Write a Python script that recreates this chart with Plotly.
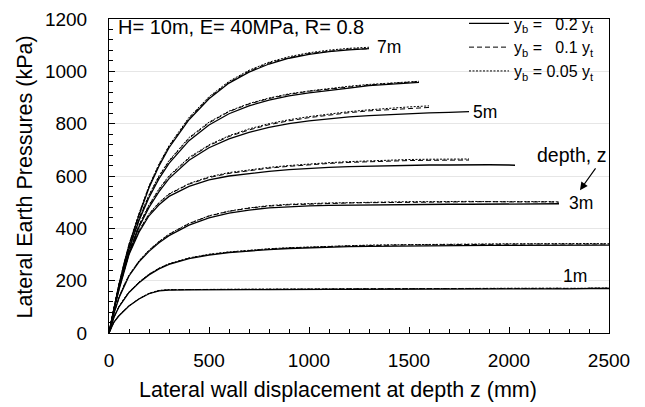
import plotly.graph_objects as go

# ---------------- data ----------------
# lateral wall displacement (mm)
disp_long = [0, 10, 25, 50, 75, 100, 150, 200, 250, 300, 400, 500, 600, 700, 800, 900, 1000,
             1100, 1200, 1300, 1400, 1500, 1600, 1700, 1800, 1900, 2000, 2100, 2200, 2300, 2400, 2500]
disp_3m = [0, 10, 25, 50, 75, 100, 150, 200, 250, 300, 400, 500, 600, 700, 800, 900, 1000,
           1100, 1200, 1300, 1400, 1500, 1600, 1700, 1800, 1900, 2000, 2100, 2200, 2250]
disp_4m = [0, 10, 25, 50, 75, 100, 150, 200, 250, 300, 400, 500, 600, 700, 800, 900, 1000,
           1100, 1200, 1300, 1400, 1500, 1600, 1700, 1800, 1900, 2000, 2030]
disp_5m = [0, 10, 25, 50, 75, 100, 150, 200, 250, 300, 400, 500, 600, 700, 800, 900, 1000,
           1100, 1200, 1300, 1400, 1500, 1600, 1700, 1800]
disp_6m = [0, 10, 25, 50, 75, 100, 150, 200, 250, 300, 400, 500, 600, 700, 800, 900, 1000,
           1100, 1200, 1300, 1400, 1500, 1550]
disp_7m = [0, 10, 25, 50, 75, 100, 150, 200, 250, 300, 400, 500, 600, 700, 800, 900, 1000,
           1100, 1200, 1300]

# lateral earth pressure (kPa): yb = 0.2 yt (solid), 0.1 yt (dashed), 0.05 yt (dotted)
p1_s = [0, 20, 42, 66, 86, 103, 130, 150, 161, 164, 165, 166, 166, 166, 166, 167, 167, 167, 167, 167,
        168, 168, 168, 168, 168, 169, 169, 169, 169, 169, 170, 170]
p1_d = [0, 20, 42, 67, 87, 104, 131, 151, 162, 165, 166, 166, 167, 167, 168, 168, 168, 168, 169, 169,
        169, 169, 170, 170, 170, 170, 170, 171, 171, 171, 171, 171]
p1_o = [0, 20, 43, 67, 87, 104, 131, 152, 163, 166, 166, 167, 167, 168, 168, 168, 169, 169, 169, 169,
        170, 170, 170, 170, 171, 171, 171, 171, 171, 172, 172, 172]

p2_s = [0, 28, 60, 100, 130, 155, 192, 222, 245, 262, 284, 298, 307, 314, 319, 323, 326, 328, 330, 331,
        332, 333, 333, 334, 334, 335, 335, 335, 336, 336, 336, 336]
p2_d = [0, 28, 61, 101, 131, 156, 194, 224, 247, 264, 286, 300, 309, 316, 321, 325, 328, 331, 333, 334,
        336, 337, 337, 338, 338, 339, 339, 340, 340, 340, 341, 340]
p2_o = [0, 29, 61, 102, 132, 157, 195, 225, 248, 265, 287, 301, 310, 317, 322, 326, 329, 332, 334, 336,
        337, 338, 339, 339, 340, 340, 341, 341, 342, 341, 342, 341]

p3_s = [0, 33, 75, 135, 180, 218, 272, 312, 345, 372, 412, 440, 458, 470, 478, 483, 486, 488, 489, 490,
        490, 491, 491, 492, 492, 493, 493, 494, 494, 494]
p3_d = [0, 33, 76, 136, 182, 220, 275, 316, 349, 377, 418, 447, 465, 477, 485, 490, 493, 495, 497, 498,
        499, 500, 500, 501, 501, 502, 501, 502, 501, 500]
p3_o = [0, 34, 76, 137, 183, 221, 276, 317, 350, 378, 419, 448, 466, 478, 487, 492, 495, 497, 498, 500,
        501, 502, 502, 503, 503, 502, 503, 502, 502, 501]

p4_s = [0, 38, 88, 165, 235, 300, 385, 448, 490, 522, 560, 585, 600, 610, 618, 624, 629, 633, 636, 638,
        640, 641, 642, 642, 643, 643, 642, 641]
p4_d = [0, 38, 89, 167, 238, 303, 390, 454, 497, 530, 569, 594, 610, 621, 630, 637, 643, 648, 652, 655,
        657, 659, 660, 661, 661]
p4_o = [0, 39, 90, 168, 239, 305, 392, 456, 499, 532, 571, 597, 613, 624, 633, 640, 646, 651, 655, 658,
        661, 663, 664, 664, 665]

p5_s = [0, 40, 92, 175, 245, 305, 405, 480, 540, 590, 660, 708, 742, 767, 786, 800, 811, 819, 826, 831,
        835, 838, 841, 843, 846]
p5_d = [0, 40, 93, 177, 248, 309, 411, 487, 548, 598, 668, 716, 751, 776, 796, 811, 823, 833, 842, 849,
        854, 858, 862]
p5_o = [0, 41, 94, 178, 250, 311, 413, 490, 551, 601, 671, 719, 754, 780, 800, 815, 827, 837, 846, 853,
        859, 864, 868]

p6_s = [0, 40, 93, 180, 255, 320, 430, 518, 590, 648, 735, 795, 838, 868, 890, 906, 918, 928, 936, 945,
        951, 956, 958]
p6_d = [0, 40, 94, 182, 258, 324, 436, 525, 598, 656, 744, 803, 846, 875, 896, 912, 924, 933, 940, 948,
        953, 958, 961]
p6_o = [0, 41, 95, 183, 259, 326, 438, 528, 601, 659, 747, 806, 848, 877, 898, 914, 925, 935, 943, 950,
        955, 960, 962]

p7_s = [0, 40, 95, 185, 265, 335, 450, 555, 638, 708, 815, 895, 955, 997, 1028, 1050, 1065, 1075, 1082, 1087]
p7_d = [0, 41, 96, 187, 268, 338, 455, 560, 643, 713, 820, 900, 958, 1001, 1032, 1052, 1068, 1077, 1085, 1086]
p7_o = [0, 41, 97, 188, 269, 340, 457, 562, 646, 716, 824, 903, 962, 1004, 1035, 1056, 1071, 1081, 1088, 1092]

depths = ["1m", "2m", "3m", "4m", "5m", "6m", "7m"]
disp = [disp_long, disp_long, disp_3m, disp_4m, disp_5m, disp_6m, disp_7m]
solid = [p1_s, p2_s, p3_s, p4_s, p5_s, p6_s, p7_s]
dashed = [p1_d, p2_d, p3_d, p4_d, p5_d, p6_d, p7_d]
dotted = [p1_o, p2_o, p3_o, p4_o, p5_o, p6_o, p7_o]

series_names = ["y<sub>b</sub> =\u00a0\u00a0\u00a00.2 y<sub>t</sub>",
                "y<sub>b</sub> =\u00a0\u00a0\u00a00.1 y<sub>t</sub>",
                "y<sub>b</sub> = 0.05 y<sub>t</sub>"]

# ---------------- figure ----------------
FONT = "Liberation Sans, Arial, sans-serif"
fig = go.Figure()

styles = [dict(width=1.3, dash="solid"),
          dict(width=1.0, dash="5px,3px"),
          dict(width=1.0, dash="2px,1.5px")]

for k, (sets, st) in enumerate(zip([solid, dashed, dotted], styles)):
    for i, d in enumerate(depths):
        yv = sets[i]
        xv = disp[i][:len(yv)]
        fig.add_trace(go.Scatter(
            x=xv, y=yv, mode="lines",
            line=dict(color="black", width=st["width"], dash=st["dash"]),
            name=series_names[k], legendgroup=series_names[k],
            showlegend=(i == 0), hoverinfo="skip"))

annotations = [
    dict(text="H= 10m, E= 40MPa, R= 0.8", xref="paper", yref="paper", x=0.014, y=0.975,
         xanchor="left", yanchor="middle", showarrow=False, font=dict(size=20)),
    dict(text="7m", x=1330, y=1092, xanchor="left", yanchor="middle", showarrow=False,
         font=dict(size=17.5)),
    dict(text="5m", x=1808, y=846, xanchor="left", yanchor="middle", showarrow=False,
         font=dict(size=17.5)),
    dict(text="3m", x=2288, y=496, xanchor="left", yanchor="middle", showarrow=False,
         font=dict(size=17.5)),
    dict(text="1m", x=2262, y=218, xanchor="left", yanchor="middle", showarrow=False,
         font=dict(size=17.5), bgcolor="white"),
    dict(text="depth, z", x=2312, y=680, xanchor="center", yanchor="middle", showarrow=False,
         font=dict(size=19.5)),
    dict(text="", x=2355, y=546, ax=2438, ay=635, axref="x", ayref="y", showarrow=True,
         arrowhead=2, arrowsize=1.3, arrowwidth=1.2, arrowcolor="black"),
    dict(text="Lateral wall displacement at depth z (mm)", xref="paper", yref="paper",
         x=0.457, y=-0.181, xanchor="center", yanchor="middle", showarrow=False,
         font=dict(size=21.5)),
    dict(text="Lateral Earth Pressures (kPa)", xref="paper", yref="paper",
         x=-0.168, y=0.495, xanchor="center", yanchor="middle", showarrow=False,
         textangle=-90, font=dict(size=21.5)),
]

# white backing behind the legend (hides the gridline there, stays under the axis frame)
shapes = [dict(type="rect", xref="paper", yref="paper", x0=0.782, x1=1.0, y0=0.76, y1=1.0,
               fillcolor="white", line=dict(width=0), layer="between")]

fig.update_layout(
    width=645, height=407,
    margin=dict(l=109, r=36, t=19, b=74, autoexpand=False),
    paper_bgcolor="white", plot_bgcolor="white",
    font=dict(family=FONT, color="black"),
    showlegend=True,
    legend=dict(x=0.71, y=1.04, xanchor="left", yanchor="top", bgcolor="rgba(0,0,0,0)",
                borderwidth=0, font=dict(size=16), tracegroupgap=0, itemwidth=40),
    annotations=annotations,
    shapes=shapes,
    xaxis=dict(range=[0, 2500], tick0=0, dtick=500, ticks="inside", ticklen=6,
               tickcolor="black", showline=True, linecolor="black", linewidth=1, mirror=True,
               showgrid=False, zeroline=False, tickfont=dict(size=19), ticklabelstandoff=10,
               automargin=False,
               minor=dict(dtick=100, ticks="inside", ticklen=4, tickcolor="black", showgrid=False)),
    yaxis=dict(range=[0, 1200], tick0=0, dtick=200, ticks="inside", ticklen=6,
               tickcolor="black", showline=True, linecolor="black", linewidth=1, mirror=True,
               showgrid=True, gridcolor="#e6e6e6", gridwidth=1, zeroline=False,
               tickfont=dict(size=19), ticklabelstandoff=17, automargin=False,
               minor=dict(dtick=40, ticks="inside", ticklen=4, tickcolor="black", showgrid=False)),
)

fig.write_html("out.html", config={"displayModeBar": False},
               post_script="document.body.style.margin='0';document.body.style.padding='0';")
